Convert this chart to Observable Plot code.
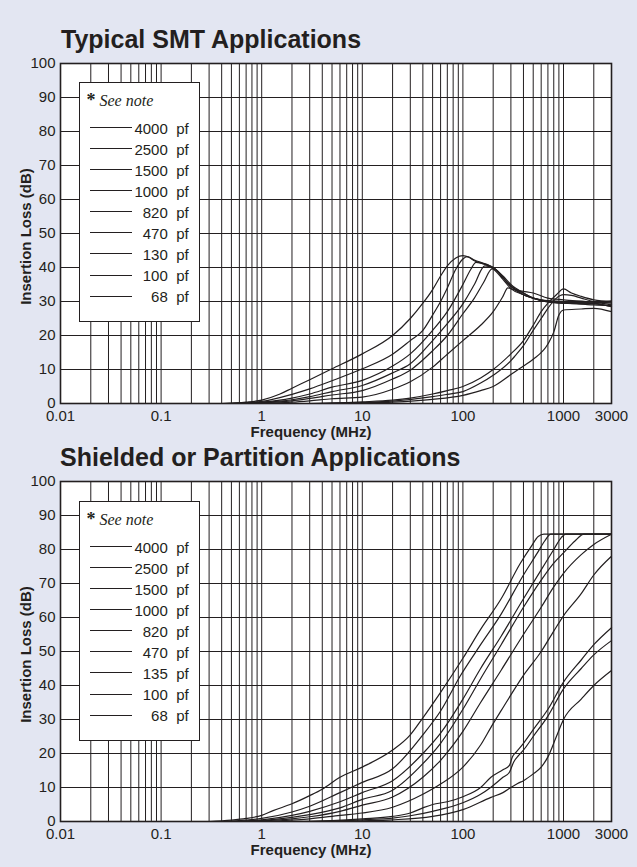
<!DOCTYPE html>
<html><head><meta charset="utf-8">
<script src="https://cdn.jsdelivr.net/npm/d3@7"></script>
<script src="https://cdn.jsdelivr.net/npm/@observablehq/plot@0.6"></script>
<style>
body{margin:0;background:#e3e6f2;}
#page{position:relative;width:637px;height:867px;overflow:hidden;background:#e3e6f2;font-family:"Liberation Sans",Arial,Helvetica,sans-serif;color:#231f20;}
.title{position:absolute;font-weight:bold;font-size:25px;line-height:25px;white-space:nowrap;}
.xlab{position:absolute;width:200px;text-align:center;font-weight:bold;font-size:15px;line-height:12px;white-space:nowrap;}
.ylab{position:absolute;width:200px;height:15px;text-align:center;font-weight:bold;font-size:15px;line-height:15px;white-space:nowrap;transform:rotate(-90deg);}
.chart{position:absolute;left:0;}
.legend{position:absolute;background:#fff;border:1.5px solid #231f20;box-sizing:border-box;}
.legend .note{position:absolute;font-family:"Liberation Serif","Times New Roman",serif;font-size:16px;line-height:16px;white-space:nowrap;}
.legend .ln{position:absolute;height:0;border-top:1.3px solid #231f20;}
.legend .num{position:absolute;text-align:right;font-size:15px;line-height:15px;}
.legend .unit{position:absolute;font-size:15px;line-height:15px;}
</style>
</head>
<body>
<div id="page"></div>
<script>
// ---------- data ----------
const xTicks = [0.01, 0.1, 1, 10, 100, 1000, 3000];
const yTicks = [0, 10, 20, 30, 40, 50, 60, 70, 80, 90, 100];
const decades = [0.01, 0.1, 1, 10, 100, 1000];
const multiples = [1, 2, 3, 4, 5, 6, 7, 8, 9];

const smtLabels = ["4000", "2500", "1500", "1000", "820", "470", "130", "100", "68"];
const shLabels  = ["4000", "2500", "1500", "1000", "820", "470", "135", "100", "68"];

// Typical SMT Applications: [frequency MHz, insertion loss dB]
const smt4000 = [[0.4,0],[0.7,0.4],[1,1],[1.5,2.7],[2,4.5],[3,7],[5,10.2],[10,14.6],[20,20],[30,25],[40,29.5],[50,33.5],[60,37.5],[70,40.5],[85,42.8],[100,43.5],[115,43],[130,42],[170,40.8],[200,39.6],[250,36.5],[300,33.8],[400,32],[500,31],[700,29.8],[1000,29.5],[1500,29.8],[2000,29.6],[3000,29.8]];
const smt2500 = [[0.5,0],[1,0.6],[2,2.7],[3,4.3],[5,6.7],[10,10.2],[20,14.5],[30,18.5],[40,21.5],[50,26],[60,30],[70,34],[85,39.5],[100,42.5],[110,43.2],[130,42.2],[170,41],[200,40],[250,37],[300,34.5],[400,32.5],[500,31],[700,30],[1000,29.5],[1500,29.3],[2000,29.5],[3000,30.2]];
const smt1500 = [[0.5,0],[1,0.4],[2,1.6],[3,2.8],[5,4.8],[10,6.8],[20,11],[30,14.6],[50,21.5],[70,27],[100,35],[120,39.5],[135,41.5],[150,41.3],[200,40],[250,37.5],[300,35],[400,32.5],[500,31],[700,30],[1000,29.8],[2000,29],[3000,28.8]];
const smt1000 = [[0.6,0],[1,0.3],[2,1.1],[3,2],[5,3.5],[10,5.3],[20,9],[30,11.7],[50,18.5],[70,23.5],[100,29.3],[130,35],[165,40.5],[200,40],[250,37],[300,34.5],[400,32],[600,30.5],[1000,29.5],[2000,29.3],[3000,28.5]];
const smt820  = [[0.6,0],[1,0.2],[2,0.8],[3,1.5],[5,2.5],[10,3.8],[20,7.2],[30,9.8],[50,15.5],[70,20],[100,26.4],[130,31],[160,35.5],[195,39.6],[220,39],[260,36.5],[300,34.5],[400,32],[600,30.5],[1000,30],[2000,29.5],[3000,28.5]];
const smt470  = [[0.8,0],[2,0.4],[3,0.8],[5,1.4],[10,1.9],[20,4.2],[30,6.4],[50,10.7],[70,14.5],[100,18.5],[150,23],[200,27],[250,31.5],[280,34],[320,33.5],[400,33],[500,32.5],[700,31],[1000,30.5],[2000,29.8],[3000,29]];
const smt130  = [[3,0],[10,0.5],[20,1],[30,1.6],[50,2.8],[70,3.8],[100,5],[150,7.5],[200,10],[300,14.6],[400,18.5],[500,23],[600,27],[700,29.5],[850,32],[1000,33.7],[1200,32.5],[1500,31.5],[2000,30.5],[3000,30]];
const smt100  = [[3,0],[10,0.3],[20,0.7],[50,2],[70,2.7],[100,3.5],[150,6],[200,8.3],[300,12.6],[330,14],[400,17],[500,21.5],[600,25],[700,28],[850,31],[1000,32],[1200,31.8],[1500,31],[2000,30],[3000,29.5]];
const smt68   = [[5,0],[10,0.2],[20,0.4],[50,1.2],[100,2.4],[150,3.8],[200,5],[300,8.5],[400,11],[500,13],[700,17.5],[800,21],[900,26],[1000,27.5],[1500,27.8],[2000,28],[3000,27]];

// Shielded or Partition Applications
const sh4000 = [[0.3,0],[0.5,0.4],[0.7,0.9],[1,1.8],[1.3,3.2],[2,5.2],[3,7.6],[4,9.5],[6,13],[10,16],[20,21],[30,25.5],[40,30.5],[60,38],[100,48],[150,56.5],[240,65.5],[370,75.8],[480,81],[560,83.8],[640,84.5],[3000,84.5]];
const sh2500 = [[0.4,0],[0.7,0.4],[1,0.9],[2,2.8],[3,4.5],[6,8.5],[10,11.5],[20,15.5],[40,25.5],[60,32.5],[95,43],[150,52],[240,61],[400,72.5],[550,79],[650,82.5],[750,84.5],[3000,84.5]];
const sh1500 = [[0.5,0],[1,0.5],[2,1.8],[3,3],[6,5.8],[10,8.5],[20,12],[40,20],[60,26],[100,36],[150,45],[240,54.5],[400,65.5],[600,74],[800,80],[950,83.5],[1050,84.5],[3000,84.5]];
const sh1000 = [[0.6,0],[1,0.3],[2,1.2],[3,2],[6,4],[10,6.5],[20,9.2],[40,17],[60,23],[100,33],[150,42],[240,52],[400,63],[600,71],[800,76],[1000,79],[1300,82.5],[1600,84.5],[3000,84.5]];
const sh820  = [[0.7,0],[1,0.2],[2,0.8],[3,1.4],[6,3],[10,4.8],[20,7.2],[40,13],[60,18],[100,26.5],[150,35],[240,44.5],[400,55],[600,63],[800,69],[1000,73],[1500,78.5],[2000,81.5],[3000,84.5]];
const sh470  = [[1,0],[2,0.4],[3,0.8],[6,1.8],[10,2.5],[20,4.2],[40,8],[60,11],[100,16],[150,22.5],[190,27.7],[240,32.6],[400,43],[600,50],[800,56],[1000,60.5],[1500,67],[2000,72.5],[3000,78]];
const sh135  = [[2,0],[5,0.3],[10,0.8],[20,1.5],[30,2.5],[40,4],[50,5],[70,5.8],[100,7.3],[150,10],[190,13],[250,15.2],[290,16.5],[310,19],[340,20.5],[400,23],[500,27],[700,33],[1000,41],[1500,47.5],[2000,52],[3000,57]];
const sh100  = [[3,0],[10,0.5],[20,1],[30,1.7],[50,3],[100,5.5],[150,8],[190,10.1],[250,13],[290,14.5],[320,17.5],[360,19.5],[400,21],[500,25],[700,31],[1000,39],[1500,45],[2000,49],[3000,53.2]];
const sh68   = [[5,0],[10,0.2],[20,0.5],[50,1.5],[100,3.5],[190,7.1],[250,8.5],[300,10],[350,11.2],[400,12],[500,14],[600,16],[700,19],[850,25],[1000,30],[1500,36],[2000,40],[3000,44.4]];

const smtSeries = [smt4000, smt2500, smt1500, smt1000, smt820, smt470, smt130, smt100, smt68];
const shSeries  = [sh4000, sh2500, sh1500, sh1000, sh820, sh470, sh135, sh100, sh68];

// ---------- drawing ----------
const INK = "#231f20";
const xGrid = decades.flatMap(d => multiples.map(m => +(m * d).toPrecision(3))).filter(v => v <= 3000);

function chart(series, labels) {
  const data = series.flatMap((s, i) => s.map(([f, v]) => ({f, v, k: labels[i]})));
  return Plot.plot({
    width: 637, height: 397,
    marginLeft: 60, marginRight: 26, marginTop: 11, marginBottom: 46,
    style: {background: "transparent", fontFamily: "'Liberation Sans', Arial, Helvetica, sans-serif", fontSize: "15px", color: INK, overflow: "visible"},
    x: {type: "log", domain: [0.01, 3000], axis: null},
    y: {domain: [0, 100], ticks: yTicks, tickFormat: d => String(d), tickSize: 0, tickPadding: 5, label: null},
    marks: [
      Plot.frame({fill: "white", stroke: "none"}),
      Plot.ruleX(xGrid, {stroke: INK, strokeWidth: 1}),
      Plot.ruleY(yTicks, {stroke: INK, strokeWidth: 1}),
      Plot.line(data, {x: "f", y: "v", z: "k", stroke: INK, strokeWidth: 1.2, curve: "monotone-x"}),
      Plot.frame({stroke: INK, strokeWidth: 1.6}),
      Plot.text(xTicks, {x: d => d, frameAnchor: "bottom", lineAnchor: "top", dy: 7, text: d => String(d), fill: INK, fontSize: 15})
    ]
  });
}

function legend(left, top, labels) {
  const box = document.createElement("div");
  box.className = "legend";
  Object.assign(box.style, {left: left + "px", top: top + "px", width: "121px", height: "240px"});
  const b = 1.5;
  const note = document.createElement("div");
  note.className = "note";
  note.style.left = (8 - b) + "px";
  note.style.top = (10.6 - b) + "px";
  note.innerHTML = '<b style="font-size:18px">*</b> <i>See note</i>';
  box.appendChild(note);
  labels.forEach((lab, i) => {
    const cy = 46.3 + 21.05 * i;
    const ln = document.createElement("div");
    ln.className = "ln";
    Object.assign(ln.style, {left: (11 - b) + "px", top: (cy - b - 0.65) + "px", width: "42px"});
    const num = document.createElement("div");
    num.className = "num";
    Object.assign(num.style, {left: "0px", width: (89.3 - b) + "px", top: (cy - b - 7.3) + "px"});
    num.textContent = lab;
    const unit = document.createElement("div");
    unit.className = "unit";
    Object.assign(unit.style, {left: (97.7 - b) + "px", top: (cy - b - 7.3) + "px"});
    unit.textContent = "pf";
    box.append(ln, num, unit);
  });
  return box;
}

const page = document.getElementById("page");
function addDiv(cls, text, styles) {
  const d = document.createElement("div");
  d.className = cls; d.textContent = text;
  Object.assign(d.style, styles);
  page.appendChild(d);
  return d;
}

// top panel
addDiv("title", "Typical SMT Applications", {left: "61px", top: "26.7px"});
const c1 = chart(smtSeries, smtLabels);
c1.classList.add("chart"); c1.style.top = "52px"; c1.style.position = "absolute";
page.appendChild(c1);
addDiv("xlab", "Frequency (MHz)", {left: "211px", top: "425.5px"});
addDiv("ylab", "Insertion Loss (dB)", {left: "-75px", top: "228.5px"});
page.appendChild(legend(79, 82, smtLabels));

// bottom panel
addDiv("title", "Shielded or Partition Applications", {left: "60px", top: "444.8px"});
const c2 = chart(shSeries, shLabels);
c2.classList.add("chart"); c2.style.top = "470px"; c2.style.position = "absolute";
page.appendChild(c2);
addDiv("xlab", "Frequency (MHz)", {left: "211px", top: "843.5px"});
addDiv("ylab", "Insertion Loss (dB)", {left: "-75px", top: "646.5px"});
page.appendChild(legend(79, 501, shLabels));
</script>
</body></html>
